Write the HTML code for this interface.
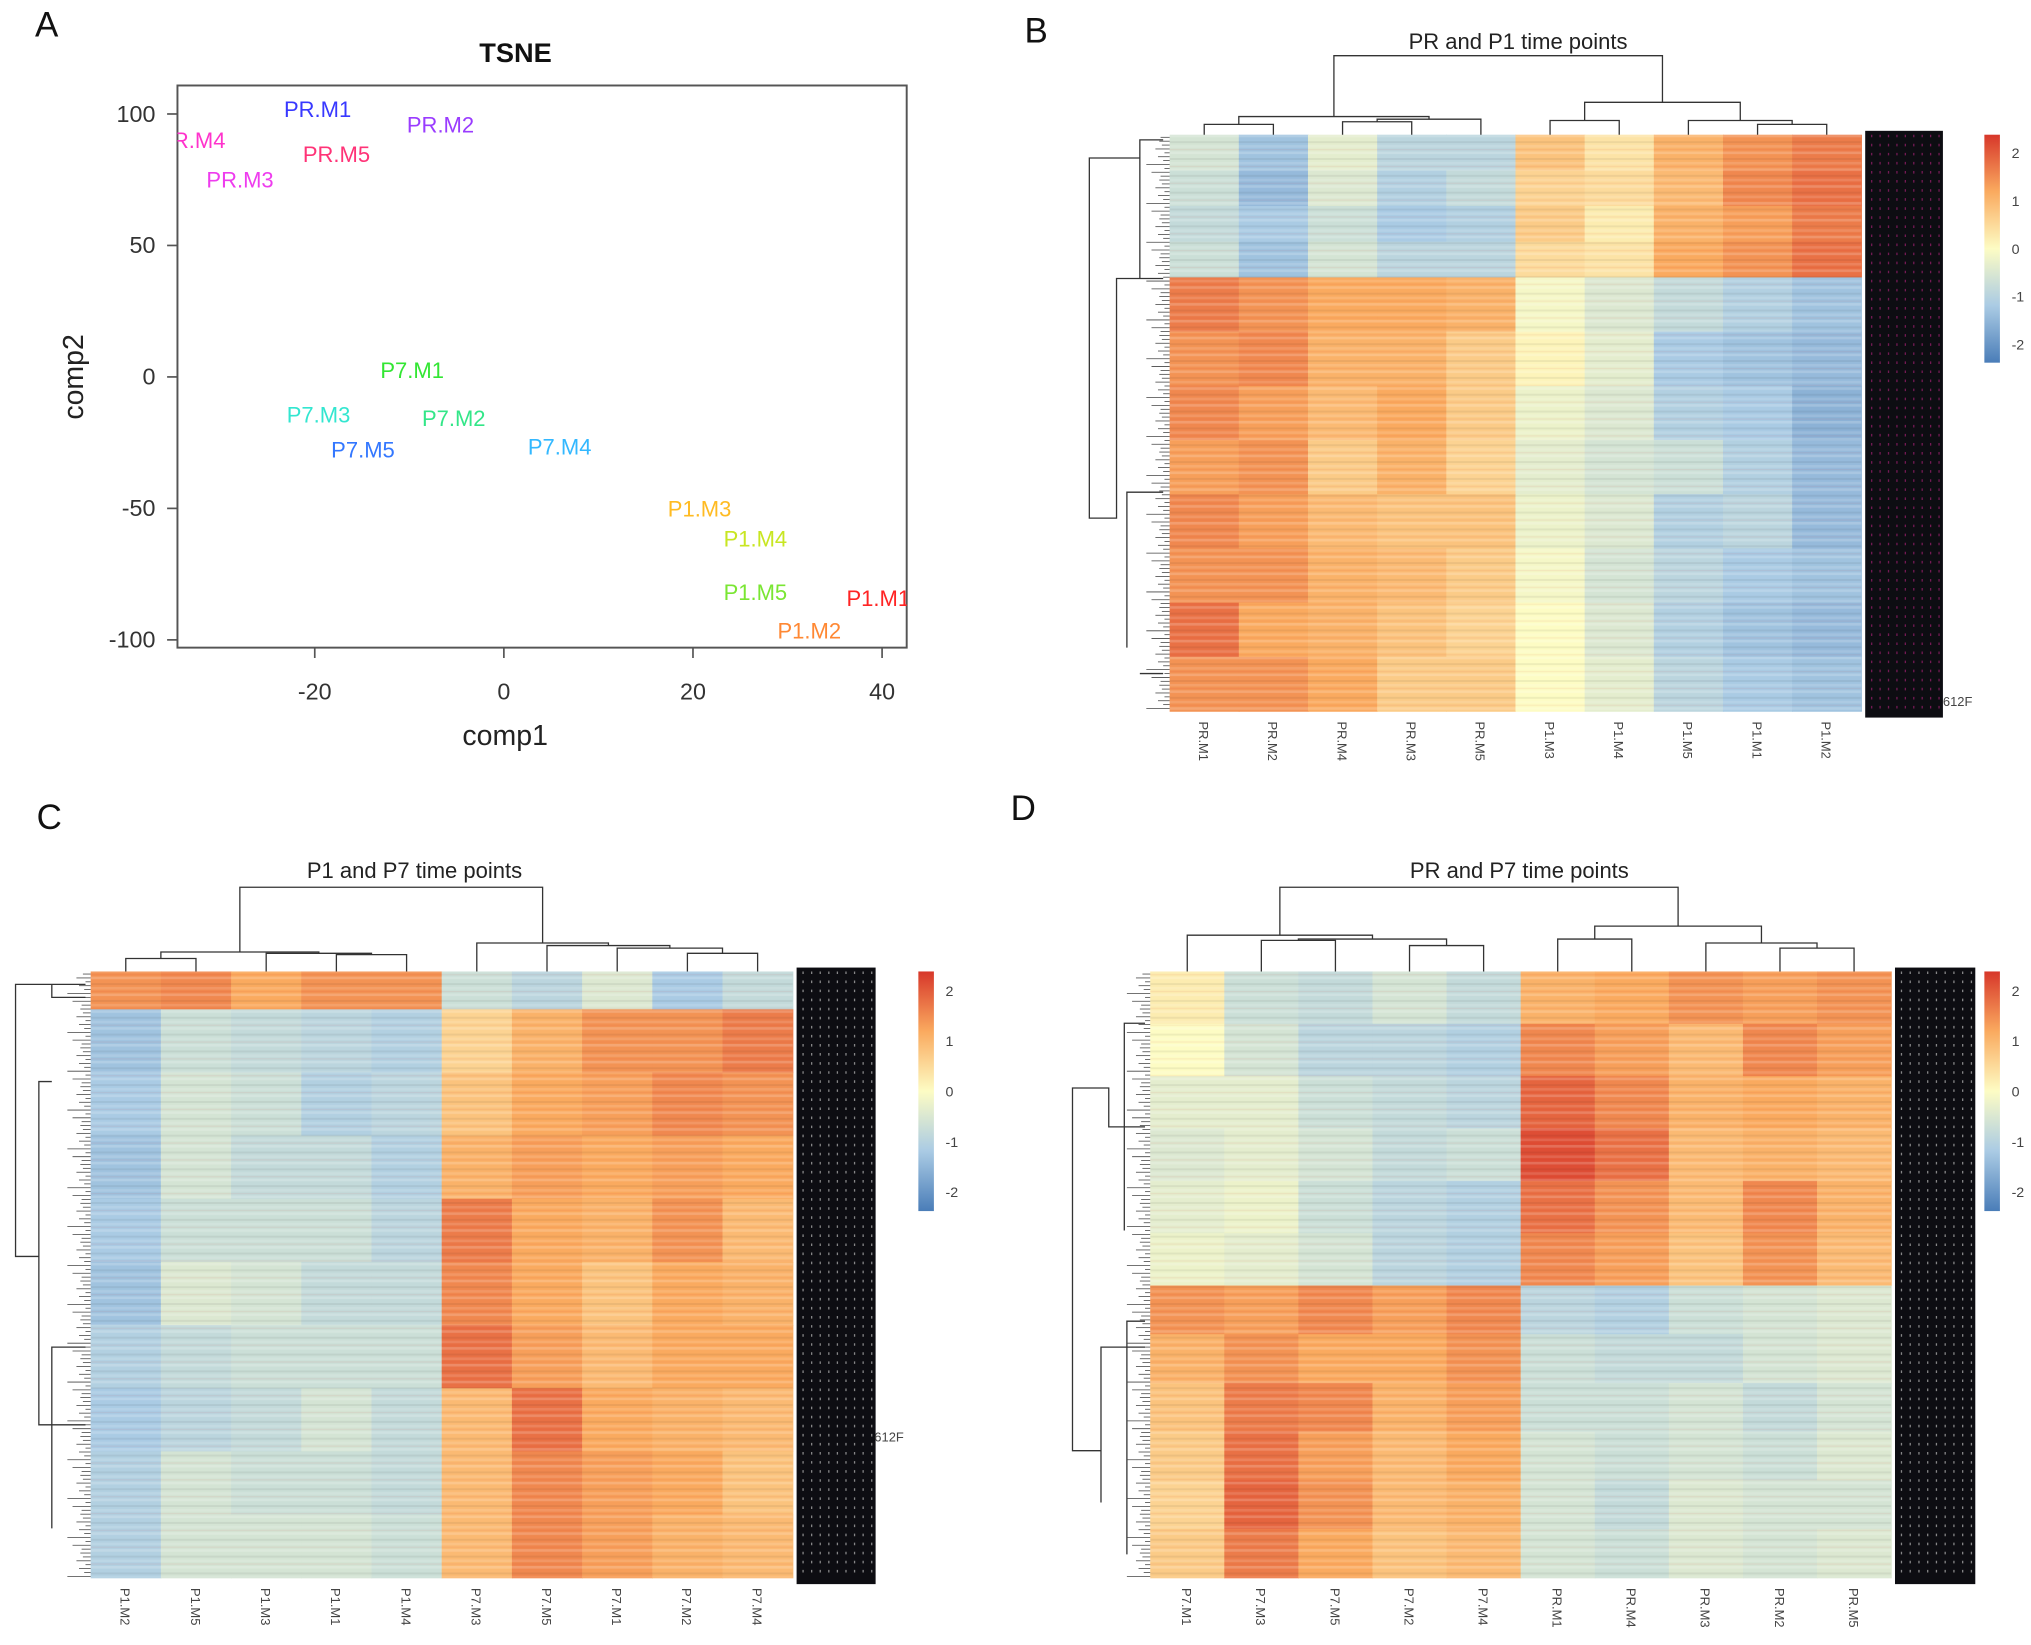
<!DOCTYPE html>
<html><head><meta charset="utf-8"><style>
html,body{margin:0;padding:0;background:#fff;}
svg{display:block;font-family:"Liberation Sans",Arial,sans-serif;}
</style></head>
<body>
<svg id="fig" width="2031" height="1645" viewBox="0 0 1568 1270" xmlns="http://www.w3.org/2000/svg">
<defs>
<linearGradient id="cbar" x1="0" y1="1" x2="0" y2="0">
<stop offset="0" stop-color="#4a7db8"/><stop offset="0.25" stop-color="#aacbe4"/><stop offset="0.5" stop-color="#fdfcc4"/><stop offset="0.75" stop-color="#faaa5f"/><stop offset="1" stop-color="#d7372a"/>
</linearGradient>
<pattern id="stripes" width="7" height="13" patternUnits="userSpaceOnUse">
<rect x="0" y="0" width="7" height="2" fill="#fff" opacity="0.18"/>
<rect x="0" y="5" width="7" height="1.5" fill="#000" opacity="0.06"/>
<rect x="0" y="8" width="7" height="2" fill="#fff" opacity="0.12"/>
<rect x="0" y="11" width="7" height="1" fill="#c00" opacity="0.06"/>
</pattern>
<clipPath id="clipA"><rect x="137" y="66" width="563" height="434"/></clipPath>
</defs>
<g id="root"></g>
</svg>
<script>
// ---------- Panel A data ----------
const tsneLabels = ["PR.M1","PR.M2","PR.M3","PR.M4","PR.M5","P7.M1","P7.M2","P7.M3","P7.M4","P7.M5","P1.M1","P1.M2","P1.M3","P1.M4","P1.M5"];
const tsneX = [-19.7,-6.7,-27.9,-33,-17.7,-9.7,-5.3,-19.6,5.9,-14.9,39.6,32.3,20.7,26.6,26.6];
const tsneY = [101.9,96,75,90,84.7,2.5,-15.8,-14.3,-26.6,-27.6,-84.2,-96.6,-50.2,-61.6,-81.8];
const tsneColors = ["#3838ff","#9a3cff","#ee3cee","#ff33cc","#ff3377","#33e633","#33e688","#33e6d0","#33b8ff","#3377ff","#ff2424","#ff8833","#ffbb22","#c8e622","#7ae633"];
const xTicks = [-20,0,20,40];
const yTicks = [100,50,0,-50,-100];

// ---------- Heatmap data ----------
const colsB = ["PR.M1","PR.M2","PR.M4","PR.M3","PR.M5","P1.M3","P1.M4","P1.M5","P1.M1","P1.M2"];
const valsB = [
[-0.5,-1.1,-0.3,-0.8,-0.8,0.7,0.3,0.9,1.2,1.4],
[-0.6,-1.2,-0.4,-0.9,-0.7,0.5,0.4,0.8,1.3,1.5],
[-0.7,-1.0,-0.6,-1.0,-0.9,0.6,0.2,0.9,1.1,1.4],
[-0.6,-1.1,-0.5,-0.8,-0.8,0.4,0.3,1.0,1.2,1.5],
[1.4,1.2,1.0,1.0,0.9,-0.1,-0.4,-0.7,-0.9,-1.1],
[1.2,1.3,0.9,0.9,0.6,0.1,-0.3,-1.0,-1.1,-1.2],
[1.3,1.1,0.8,1.0,0.6,-0.2,-0.4,-0.9,-1.0,-1.3],
[1.1,1.2,0.6,0.9,0.5,-0.3,-0.5,-0.6,-0.9,-1.2],
[1.3,1.1,0.8,0.7,0.7,-0.2,-0.4,-0.9,-0.8,-1.2],
[1.2,1.2,0.9,0.8,0.6,-0.1,-0.5,-0.8,-1.0,-1.1],
[1.5,1.0,0.9,0.7,0.5,0.0,-0.4,-0.9,-1.1,-1.2],
[1.2,1.2,1.0,0.6,0.6,0.0,-0.3,-0.8,-1.0,-1.1]];
const colsC = ["P1.M2","P1.M5","P1.M3","P1.M1","P1.M4","P7.M3","P7.M5","P7.M1","P7.M2","P7.M4"];
const valsC = [
[1.2,1.3,1.0,1.2,1.2,-0.6,-0.8,-0.4,-1.0,-0.7],
[-1.1,-0.6,-0.7,-0.8,-0.9,0.5,0.9,1.2,1.2,1.4],
[-1.0,-0.5,-0.6,-0.9,-0.8,0.7,1.0,1.1,1.3,1.2],
[-1.1,-0.5,-0.7,-0.7,-0.9,0.9,1.1,1.0,1.1,1.0],
[-1.0,-0.6,-0.6,-0.6,-0.8,1.4,1.0,0.9,1.2,0.8],
[-1.1,-0.4,-0.5,-0.7,-0.7,1.3,1.0,0.7,1.0,0.9],
[-0.9,-0.7,-0.6,-0.6,-0.6,1.5,1.1,0.8,1.0,1.0],
[-1.0,-0.8,-0.7,-0.5,-0.7,0.8,1.5,1.0,0.9,0.8],
[-0.9,-0.5,-0.6,-0.6,-0.7,0.8,1.3,1.1,1.0,0.7],
[-0.9,-0.5,-0.5,-0.5,-0.6,0.8,1.3,1.1,0.9,0.8]];
const colsD = ["P7.M1","P7.M3","P7.M5","P7.M2","P7.M4","PR.M1","PR.M4","PR.M3","PR.M2","PR.M5"];
const valsD = [
[0.2,-0.6,-0.7,-0.5,-0.7,0.9,1.0,1.2,1.1,1.2],
[0.0,-0.5,-0.8,-0.8,-0.9,1.3,1.1,0.8,1.3,1.1],
[-0.3,-0.3,-0.6,-0.7,-0.8,1.6,1.3,0.9,1.0,0.9],
[-0.4,-0.3,-0.5,-0.7,-0.6,1.8,1.5,0.8,0.9,0.8],
[-0.3,-0.2,-0.6,-0.8,-0.9,1.5,1.2,0.8,1.3,0.9],
[-0.2,-0.3,-0.5,-0.8,-0.9,1.3,1.1,0.7,1.2,0.8],
[1.2,1.1,1.3,1.1,1.3,-0.8,-0.9,-0.6,-0.5,-0.4],
[0.9,1.2,1.0,1.0,1.2,-0.6,-0.7,-0.7,-0.5,-0.4],
[0.7,1.4,1.3,0.9,1.1,-0.6,-0.6,-0.5,-0.7,-0.5],
[0.6,1.5,1.1,0.8,1.0,-0.5,-0.6,-0.5,-0.6,-0.4],
[0.5,1.6,1.2,0.8,0.9,-0.5,-0.7,-0.4,-0.5,-0.5],
[0.6,1.4,1.0,0.7,0.8,-0.5,-0.6,-0.4,-0.5,-0.4]];
const legendTicks = [2,1,0,-1,-2];

// ---------- helpers ----------
const NS="http://www.w3.org/2000/svg";
const root=document.getElementById('root');
function el(tag,attrs,parent,txt){const e=document.createElementNS(NS,tag);for(const k in attrs)e.setAttribute(k,attrs[k]);if(txt!==undefined)e.textContent=txt;(parent||root).appendChild(e);return e;}
const stops=[[-2,[70,120,182]],[-1,[170,203,228]],[0,[253,252,196]],[1,[250,170,95]],[2,[215,55,42]]];
function color(v){v=Math.max(-2,Math.min(2,v));for(let i=0;i<stops.length-1;i++){const a=stops[i],b=stops[i+1];if(v<=b[0]){const t=(v-a[0])/(b[0]-a[0]);const c=a[1].map((x,j)=>Math.round(x+(b[1][j]-x)*t));return `rgb(${c[0]},${c[1]},${c[2]})`;}}return 'rgb(215,55,42)';}

// panel letters
[["A",36,28],["B",800,33],["C",38,640],["D",790,633]].forEach(p=>{
  const t=el('text',{x:p[1],y:p[2],'font-size':27,fill:'#111','text-anchor':'middle'},root,p[0]);
  
  
});

// ---------- Panel A ----------
const gA=el('g',{});


const ax={x0:137,x1:700,y0:66,y1:500};
const sx=v=>389+v*7.3, sy=v=>291-v*2.03;
el('text',{x:398,y:48,'font-size':21,'font-weight':'bold','text-anchor':'middle',fill:'#111'},gA,'TSNE');
const box=el('rect',{x:ax.x0,y:ax.y0,width:ax.x1-ax.x0,height:ax.y1-ax.y0,fill:'none',stroke:'#555','stroke-width':1.5},gA);

xTicks.forEach(t=>{const x=sx(t);el('line',{x1:x,y1:500,x2:x,y2:508,stroke:'#555','stroke-width':1.3},gA);
  const tx=el('text',{x:x,y:540,'font-size':18,'text-anchor':'middle',fill:'#333'},gA,t);});
yTicks.forEach(t=>{const y=sy(t);el('line',{x1:129,y1:y,x2:137,y2:y,stroke:'#555','stroke-width':1.3},gA);
  const tx=el('text',{x:120,y:y+6,'font-size':18,'text-anchor':'end',fill:'#333'},gA,t);});
el('text',{x:390,y:575,'font-size':22,'text-anchor':'middle',fill:'#222'},gA,'comp1');
el('text',{x:0,y:0,'font-size':22,'text-anchor':'middle',fill:'#222',transform:'translate(64,291) rotate(-90)'},gA,'comp2');
const gPts=el('g',{'clip-path':'url(#clipA)'},gA);
tsneLabels.forEach((l,i)=>{
  const t=el('text',{x:sx(tsneX[i]),y:sy(tsneY[i])+6,'font-size':17,'text-anchor':'middle',fill:tsneColors[i]},gPts,l);
  
  
});

// ---------- heatmap drawing ----------
function drawTree(g,tree,cx,top){
  if(typeof tree==='number') return [cx[tree],top];
  const y=top-tree[0];
  const a=drawTree(g,tree[1],cx,top), b=drawTree(g,tree[2],cx,top);
  el('path',{d:`M${a[0]} ${a[1]}V${y}H${b[0]}V${b[1]}`,fill:'none',stroke:'#333','stroke-width':1},g);
  return [(a[0]+b[0])/2,y];
}
function heatmap(cfg){
  const g=el('g',{});
  
  
  const {x0,x1,y0,y1,cols,vals,bandH}=cfg;
  const cw=(x1-x0)/cols.length;
  const tot=bandH.reduce((a,b)=>a+b,0);
  let y=y0;
  vals.forEach((row,r)=>{
    const h=(y1-y0)*bandH[r]/tot;
    row.forEach((v,c)=>{
      const rc=el('rect',{x:x0+c*cw,y:y,width:cw+0.5,height:h+0.5,fill:color(v)},g);
      
      
    });
    y+=h;
  });
  el('rect',{x:x0,y:y0,width:x1-x0,height:y1-y0,fill:'url(#stripes)'},g);
  el('text',{x:cfg.tx,y:cfg.ty,'font-size':17,'text-anchor':'middle',fill:'#222'},g,cfg.title);
  const cx=cols.map((_,i)=>x0+cw*(i+0.5));
  const gd=el('g',{},g);
  drawTree(gd,cfg.tree,cx,y0);
  cols.forEach((c,i)=>{
    const t=el('text',{x:0,y:0,'font-size':10,fill:'#444',transform:`translate(${cx[i]-4},${y1+8}) rotate(90)`},g,c);
    
  });
  const gr=el('g',{},g);
  el('path',{d:cfg.rowPath,fill:'none',stroke:'#333','stroke-width':1},gr);
  for(let yy=y0+2;yy<y1;yy+=3){const len=[4,9,6,14,5,11,7,18,4,8][Math.round(yy)%10];
    el('line',{x1:x0-len,y1:yy,x2:x0,y2:yy,stroke:'#444','stroke-width':0.6},gr);}
  const lc=el('rect',{x:cfg.lx,y:y0-3,width:cfg.lw,height:y1-y0+8,fill:'#0d0d12'},g);
  
  for(let k=0;k<9;k++) el('line',{x1:cfg.lx+5+k*(cfg.lw-8)/8,y1:y0,x2:cfg.lx+5+k*(cfg.lw-8)/8,y2:y1,stroke:cfg.lcol,'stroke-width':1,'stroke-dasharray':'2 5',opacity:0.7},g);
  if(cfg.tag) el('text',{x:cfg.tag[0],y:cfg.tag[1],'font-size':10,fill:'#444'},g,'612F');
  const lg=el('g',{},g);
  el('rect',{x:cfg.cbx,y:y0,width:12,height:cfg.cbh,fill:'url(#cbar)'},lg);
  legendTicks.forEach((t,i)=>{
    const ty=y0+cfg.cbh*(0.08+i*0.21);
    el('text',{x:cfg.cbx+21,y:ty+4,'font-size':11,fill:'#444'},lg,t);
  });
}

heatmap({name:'heatmap-pr-p1',x0:903,x1:1437,y0:104,y1:549,cols:colsB,vals:valsB,
  bandH:[2.5,2.5,2.5,2.5,3.8,3.8,3.8,3.8,3.8,3.8,3.8,3.8],title:'PR and P1 time points',tx:1172,ty:38,
  tree:[61,[14,[8,0,1],[12,[10,2,3],4]],[25,[11,5,6],[11,7,[8,8,9]]]],
  rowPath:'M898 108H880V215 M898 215H862V400H841V122H880 M880 215H870 M898 380H870V500 M898 520H880',
  lx:1440,lw:60,lcol:'#a02070',tag:[1500,545],cbx:1532,cbh:176});
heatmap({name:'heatmap-p1-p7',x0:70,x1:612,y0:750,y1:1218,cols:colsC,vals:valsC,
  bandH:[0.6,1,1,1,1,1,1,1,1,1],title:'P1 and P7 time points',tx:320,ty:678,
  tree:[65,[15,[10,0,1],[14,2,[13,3,4]]],[22,5,[20,6,[18,7,[14,8,9]]]]],
  rowPath:'M66 760H12V970H30 M66 770H40V760 M66 1100H30V835H40 M66 1040H40V1180',
  lx:615,lw:61,lcol:'#bbbbbb',tag:[675,1113],cbx:709,cbh:185});
heatmap({name:'heatmap-pr-p7',x0:888,x1:1460,y0:750,y1:1218,cols:colsD,vals:valsD,
  bandH:[1,1,1,1,1,1,0.93,0.93,0.93,0.93,0.93,0.93],title:'PR and P7 time points',tx:1173,ty:678,
  tree:[65,[28,0,[25,[24,1,2],[20,3,4]]],[35,[25,5,6],[22,7,[18,8,9]]]],
  rowPath:'M884 870H856V840H828V1120H850V1085 M884 1040H850V1160 M884 790H868V950 M884 1020H870V1200',
  lx:1463,lw:62,lcol:'#bbbbbb',tag:null,cbx:1532,cbh:185});
</script>
</body></html>
